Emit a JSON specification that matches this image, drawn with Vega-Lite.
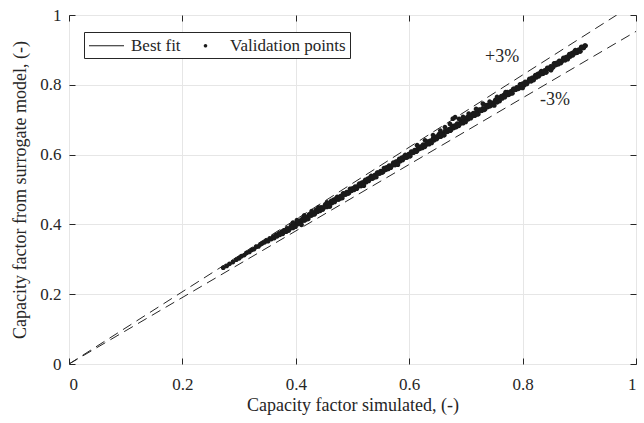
{
"$schema":"https://vega.github.io/schema/vega-lite/v6.json",
"width":567,"height":349,
"autosize":{"type":"none"},
"padding":{"left":69,"top":15,"right":8,"bottom":59},
"background":"white",
"config":{"font":"Liberation Serif","view":{"stroke":"#262626","strokeWidth":1},
"axis":{"domain":false,"gridColor":"#e6e6e6","gridWidth":1,"tickColor":"#262626","tickSize":-6,"labelColor":"#262626","titleColor":"#262626","labelFont":"Liberation Serif","titleFont":"Liberation Serif","labelFontSize":17,"titleFontSize":18,"titleFontWeight":"normal"}},
"resolve":{"axis":{"x":"independent","y":"independent"}},
"layer":[
{"data":{"values":[{"k":"p","x":0,"y":0},{"k":"p","x":0.966,"y":1},{"k":"m","x":0,"y":0},{"k":"m","x":1,"y":0.953}]},
"mark":{"type":"line","strokeDash":[10,6],"color":"#262626","strokeWidth":1,"clip":true},
"encoding":{"detail":{"field":"k"},
"x":{"field":"x","type":"quantitative","scale":{"domain":[0,1],"nice":false},"axis":{"values":[0,0.2,0.4,0.6,0.8,1],"format":"~g","title":"Capacity factor simulated, (-)","labelPadding":18,"titlePadding":4}},
"y":{"field":"y","type":"quantitative","scale":{"domain":[0,1],"nice":false},"axis":{"values":[0,0.2,0.4,0.6,0.8,1],"format":"~g","title":"Capacity factor from surrogate model, (-)","labelPadding":14,"titlePadding":10}}}},
{"data":{"values":[{"x":0.27,"y":0.27},{"x":0.915,"y":0.913}]},
"mark":{"type":"line","color":"#555555","strokeWidth":1},
"encoding":{"x":{"field":"x","type":"quantitative","axis":{"orient":"top","values":[0,0.2,0.4,0.6,0.8,1],"labels":false,"title":null,"grid":false}},
"y":{"field":"y","type":"quantitative","axis":{"orient":"right","values":[0,0.2,0.4,0.6,0.8,1],"labels":false,"title":null,"grid":false}}}},
{"data":{"values":[
{"x":0.272,"y":0.276},{"x":0.278,"y":0.281},{"x":0.283,"y":0.287},{"x":0.289,"y":0.292},{"x":0.295,"y":0.299},{"x":0.300,"y":0.303},{"x":0.304,"y":0.309},{"x":0.309,"y":0.312},{"x":0.313,"y":0.318},{"x":0.318,"y":0.321},{"x":0.322,"y":0.327},{"x":0.326,"y":0.329},{"x":0.330,"y":0.336},{"x":0.334,"y":0.337},{"x":0.338,"y":0.343},{"x":0.341,"y":0.346},{"x":0.345,"y":0.349},{"x":0.348,"y":0.354},{"x":0.351,"y":0.352},{"x":0.354,"y":0.360},{"x":0.357,"y":0.358},{"x":0.360,"y":0.365},{"x":0.362,"y":0.361},{"x":0.365,"y":0.370},{"x":0.367,"y":0.366},{"x":0.370,"y":0.374},{"x":0.372,"y":0.370},{"x":0.375,"y":0.379},{"x":0.377,"y":0.373},{"x":0.379,"y":0.383},
{"x":0.380,"y":0.383},{"x":0.383,"y":0.379},{"x":0.386,"y":0.387},{"x":0.389,"y":0.387},{"x":0.392,"y":0.397},{"x":0.395,"y":0.390},{"x":0.398,"y":0.398},{"x":0.401,"y":0.403},{"x":0.404,"y":0.401},{"x":0.407,"y":0.411},
{"x":0.410,"y":0.409},{"x":0.413,"y":0.419},{"x":0.416,"y":0.412},{"x":0.419,"y":0.421},{"x":0.422,"y":0.416},{"x":0.425,"y":0.428},{"x":0.428,"y":0.426},{"x":0.431,"y":0.432},{"x":0.434,"y":0.431},{"x":0.437,"y":0.441},
{"x":0.440,"y":0.443},{"x":0.443,"y":0.439},{"x":0.446,"y":0.447},{"x":0.449,"y":0.447},{"x":0.452,"y":0.457},{"x":0.455,"y":0.450},{"x":0.458,"y":0.458},{"x":0.461,"y":0.463},{"x":0.464,"y":0.461},{"x":0.467,"y":0.471},
{"x":0.470,"y":0.469},{"x":0.473,"y":0.479},{"x":0.476,"y":0.472},{"x":0.479,"y":0.481},{"x":0.482,"y":0.476},{"x":0.485,"y":0.488},{"x":0.488,"y":0.486},{"x":0.491,"y":0.492},{"x":0.494,"y":0.491},{"x":0.497,"y":0.501},
{"x":0.500,"y":0.503},{"x":0.503,"y":0.499},{"x":0.506,"y":0.507},{"x":0.509,"y":0.507},{"x":0.512,"y":0.517},{"x":0.515,"y":0.510},{"x":0.518,"y":0.518},{"x":0.521,"y":0.523},{"x":0.524,"y":0.521},{"x":0.527,"y":0.531},
{"x":0.530,"y":0.529},{"x":0.533,"y":0.539},{"x":0.536,"y":0.532},{"x":0.539,"y":0.541},{"x":0.542,"y":0.536},{"x":0.545,"y":0.548},{"x":0.548,"y":0.546},{"x":0.551,"y":0.552},{"x":0.554,"y":0.551},{"x":0.557,"y":0.561},
{"x":0.560,"y":0.563},{"x":0.563,"y":0.559},{"x":0.566,"y":0.567},{"x":0.569,"y":0.567},{"x":0.572,"y":0.577},{"x":0.575,"y":0.570},{"x":0.578,"y":0.578},{"x":0.581,"y":0.583},{"x":0.584,"y":0.581},{"x":0.587,"y":0.591},
{"x":0.590,"y":0.589},{"x":0.593,"y":0.599},{"x":0.596,"y":0.592},{"x":0.599,"y":0.601},{"x":0.602,"y":0.596},{"x":0.605,"y":0.608},{"x":0.608,"y":0.606},{"x":0.611,"y":0.612},{"x":0.614,"y":0.611},{"x":0.617,"y":0.621},
{"x":0.620,"y":0.623},{"x":0.623,"y":0.619},{"x":0.626,"y":0.627},{"x":0.629,"y":0.627},{"x":0.632,"y":0.637},{"x":0.635,"y":0.630},{"x":0.638,"y":0.638},{"x":0.641,"y":0.643},{"x":0.644,"y":0.641},{"x":0.647,"y":0.651},
{"x":0.650,"y":0.649},{"x":0.653,"y":0.659},{"x":0.656,"y":0.652},{"x":0.659,"y":0.661},{"x":0.662,"y":0.656},{"x":0.665,"y":0.668},{"x":0.668,"y":0.666},{"x":0.671,"y":0.672},{"x":0.674,"y":0.671},{"x":0.677,"y":0.681},
{"x":0.680,"y":0.683},{"x":0.683,"y":0.679},{"x":0.686,"y":0.687},{"x":0.689,"y":0.687},{"x":0.692,"y":0.697},{"x":0.695,"y":0.690},{"x":0.698,"y":0.698},{"x":0.701,"y":0.703},{"x":0.704,"y":0.701},{"x":0.707,"y":0.711},
{"x":0.710,"y":0.709},{"x":0.713,"y":0.719},{"x":0.716,"y":0.712},{"x":0.719,"y":0.721},{"x":0.722,"y":0.716},{"x":0.725,"y":0.728},{"x":0.728,"y":0.726},{"x":0.731,"y":0.732},{"x":0.734,"y":0.731},{"x":0.737,"y":0.741},
{"x":0.740,"y":0.743},{"x":0.743,"y":0.739},{"x":0.746,"y":0.747},{"x":0.749,"y":0.747},{"x":0.752,"y":0.757},{"x":0.755,"y":0.750},{"x":0.758,"y":0.758},{"x":0.761,"y":0.763},{"x":0.764,"y":0.761},{"x":0.767,"y":0.771},
{"x":0.770,"y":0.769},{"x":0.773,"y":0.779},{"x":0.776,"y":0.772},{"x":0.779,"y":0.781},{"x":0.782,"y":0.776},{"x":0.785,"y":0.788},{"x":0.788,"y":0.786},{"x":0.791,"y":0.792},{"x":0.794,"y":0.791},{"x":0.797,"y":0.801},
{"x":0.800,"y":0.803},{"x":0.803,"y":0.799},{"x":0.806,"y":0.807},{"x":0.809,"y":0.807},{"x":0.812,"y":0.817},{"x":0.815,"y":0.810},{"x":0.818,"y":0.818},{"x":0.821,"y":0.823},{"x":0.824,"y":0.821},{"x":0.827,"y":0.831},
{"x":0.830,"y":0.829},{"x":0.833,"y":0.839},{"x":0.836,"y":0.832},{"x":0.839,"y":0.841},{"x":0.842,"y":0.836},{"x":0.845,"y":0.848},{"x":0.848,"y":0.846},{"x":0.851,"y":0.852},{"x":0.854,"y":0.851},{"x":0.857,"y":0.861},
{"x":0.860,"y":0.863},{"x":0.863,"y":0.859},{"x":0.866,"y":0.867},{"x":0.869,"y":0.867},{"x":0.872,"y":0.877},{"x":0.875,"y":0.870},{"x":0.878,"y":0.878},{"x":0.881,"y":0.883},{"x":0.884,"y":0.881},{"x":0.887,"y":0.891},
{"x":0.890,"y":0.889},{"x":0.893,"y":0.899},{"x":0.896,"y":0.892},{"x":0.899,"y":0.901},{"x":0.902,"y":0.896},{"x":0.905,"y":0.908},{"x":0.908,"y":0.906},{"x":0.911,"y":0.912},
{"x":0.3815,"y":0.3795},{"x":0.3845,"y":0.3885},{"x":0.3875,"y":0.3825},{"x":0.3905,"y":0.3915},{"x":0.3935,"y":0.3925},{"x":0.3965,"y":0.3995},{"x":0.3995,"y":0.3935},{"x":0.4025,"y":0.4075},{"x":0.4055,"y":0.4075},{"x":0.4085,"y":0.4045},{"x":0.4115,"y":0.4155},{"x":0.4145,"y":0.4115},{"x":0.4175,"y":0.4185},{"x":0.4205,"y":0.4155},{"x":0.4235,"y":0.4285},{"x":0.4265,"y":0.4255},{"x":0.4295,"y":0.4325},{"x":0.4325,"y":0.4285},{"x":0.4355,"y":0.4415},{"x":0.4385,"y":0.4365},
{"x":0.4415,"y":0.4395},{"x":0.4445,"y":0.4485},{"x":0.4475,"y":0.4425},{"x":0.4505,"y":0.4515},{"x":0.4535,"y":0.4525},{"x":0.4565,"y":0.4595},{"x":0.4595,"y":0.4535},{"x":0.4625,"y":0.4675},{"x":0.4655,"y":0.4675},{"x":0.4685,"y":0.4645},{"x":0.4715,"y":0.4755},{"x":0.4745,"y":0.4715},{"x":0.4775,"y":0.4785},{"x":0.4805,"y":0.4755},{"x":0.4835,"y":0.4885},{"x":0.4865,"y":0.4855},{"x":0.4895,"y":0.4925},{"x":0.4925,"y":0.4885},{"x":0.4955,"y":0.5015},{"x":0.4985,"y":0.4965},
{"x":0.5015,"y":0.4995},{"x":0.5045,"y":0.5085},{"x":0.5075,"y":0.5025},{"x":0.5105,"y":0.5115},{"x":0.5135,"y":0.5125},{"x":0.5165,"y":0.5195},{"x":0.5195,"y":0.5135},{"x":0.5225,"y":0.5275},{"x":0.5255,"y":0.5275},{"x":0.5285,"y":0.5245},{"x":0.5315,"y":0.5355},{"x":0.5345,"y":0.5315},{"x":0.5375,"y":0.5385},{"x":0.5405,"y":0.5355},{"x":0.5435,"y":0.5485},{"x":0.5465,"y":0.5455},{"x":0.5495,"y":0.5525},{"x":0.5525,"y":0.5485},{"x":0.5555,"y":0.5615},{"x":0.5585,"y":0.5565},
{"x":0.5615,"y":0.5595},{"x":0.5645,"y":0.5685},{"x":0.5675,"y":0.5625},{"x":0.5705,"y":0.5715},{"x":0.5735,"y":0.5725},{"x":0.5765,"y":0.5795},{"x":0.5795,"y":0.5735},{"x":0.5825,"y":0.5875},{"x":0.5855,"y":0.5875},{"x":0.5885,"y":0.5845},{"x":0.5915,"y":0.5955},{"x":0.5945,"y":0.5915},{"x":0.5975,"y":0.5985},{"x":0.6005,"y":0.5955},{"x":0.6035,"y":0.6085},{"x":0.6065,"y":0.6055},{"x":0.6095,"y":0.6125},{"x":0.6125,"y":0.6085},{"x":0.6155,"y":0.6215},{"x":0.6185,"y":0.6165},
{"x":0.6215,"y":0.6195},{"x":0.6245,"y":0.6285},{"x":0.6275,"y":0.6225},{"x":0.6305,"y":0.6315},{"x":0.6335,"y":0.6325},{"x":0.6365,"y":0.6395},{"x":0.6395,"y":0.6335},{"x":0.6425,"y":0.6475},{"x":0.6455,"y":0.6475},{"x":0.6485,"y":0.6445},{"x":0.6515,"y":0.6555},{"x":0.6545,"y":0.6515},{"x":0.6575,"y":0.6585},{"x":0.6605,"y":0.6555},{"x":0.6635,"y":0.6685},{"x":0.6665,"y":0.6655},{"x":0.6695,"y":0.6725},{"x":0.6725,"y":0.6685},{"x":0.6755,"y":0.6815},{"x":0.6785,"y":0.6765},
{"x":0.6815,"y":0.6795},{"x":0.6845,"y":0.6885},{"x":0.6875,"y":0.6825},{"x":0.6905,"y":0.6915},{"x":0.6935,"y":0.6925},{"x":0.6965,"y":0.6995},{"x":0.6995,"y":0.6935},{"x":0.7025,"y":0.7075},{"x":0.7055,"y":0.7075},{"x":0.7085,"y":0.7045},{"x":0.7115,"y":0.7155},{"x":0.7145,"y":0.7115},{"x":0.7175,"y":0.7185},{"x":0.7205,"y":0.7155},{"x":0.7235,"y":0.7285},{"x":0.7265,"y":0.7255},{"x":0.7295,"y":0.7325},{"x":0.7325,"y":0.7285},{"x":0.7355,"y":0.7415},{"x":0.7385,"y":0.7365},
{"x":0.7415,"y":0.7395},{"x":0.7445,"y":0.7485},{"x":0.7475,"y":0.7425},{"x":0.7505,"y":0.7515},{"x":0.7535,"y":0.7525},{"x":0.7565,"y":0.7595},{"x":0.7595,"y":0.7535},{"x":0.7625,"y":0.7675},{"x":0.7655,"y":0.7675},{"x":0.7685,"y":0.7645},{"x":0.7715,"y":0.7755},{"x":0.7745,"y":0.7715},{"x":0.7775,"y":0.7785},{"x":0.7805,"y":0.7755},{"x":0.7835,"y":0.7885},{"x":0.7865,"y":0.7855},{"x":0.7895,"y":0.7925},{"x":0.7925,"y":0.7885},{"x":0.7955,"y":0.8015},{"x":0.7985,"y":0.7965},
{"x":0.8015,"y":0.7995},{"x":0.8045,"y":0.8085},{"x":0.8075,"y":0.8025},{"x":0.8105,"y":0.8115},{"x":0.8135,"y":0.8125},{"x":0.8165,"y":0.8195},{"x":0.8195,"y":0.8135},{"x":0.8225,"y":0.8275},{"x":0.8255,"y":0.8275},{"x":0.8285,"y":0.8245},{"x":0.8315,"y":0.8355},{"x":0.8345,"y":0.8315},{"x":0.8375,"y":0.8385},{"x":0.8405,"y":0.8355},{"x":0.8435,"y":0.8485},{"x":0.8465,"y":0.8455},{"x":0.8495,"y":0.8525},{"x":0.8525,"y":0.8485},{"x":0.8555,"y":0.8615},{"x":0.8585,"y":0.8565},
{"x":0.8615,"y":0.8595},{"x":0.8645,"y":0.8685},{"x":0.8675,"y":0.8625},{"x":0.8705,"y":0.8715},{"x":0.8735,"y":0.8725},{"x":0.8765,"y":0.8795},{"x":0.8795,"y":0.8735},{"x":0.8825,"y":0.8875},{"x":0.8855,"y":0.8875},{"x":0.8885,"y":0.8845},{"x":0.8915,"y":0.8955},{"x":0.8945,"y":0.8915},{"x":0.8975,"y":0.8985},{"x":0.9005,"y":0.8955},{"x":0.9035,"y":0.9085},{"x":0.9065,"y":0.9055},{"x":0.9095,"y":0.9125},
{"x":0.395,"y":0.405},{"x":0.402,"y":0.412},{"x":0.415,"y":0.426},{"x":0.428,"y":0.438},{"x":0.440,"y":0.449},{"x":0.455,"y":0.463},
{"x":0.614,"y":0.627},{"x":0.628,"y":0.641},{"x":0.642,"y":0.656},{"x":0.655,"y":0.669},{"x":0.663,"y":0.679},{"x":0.672,"y":0.688},{"x":0.677,"y":0.703},{"x":0.681,"y":0.707},{"x":0.688,"y":0.702},{"x":0.695,"y":0.708},{"x":0.705,"y":0.717},{"x":0.718,"y":0.731},{"x":0.730,"y":0.746},{"x":0.742,"y":0.752},{"x":0.755,"y":0.765},{"x":0.770,"y":0.779},
{"x":0.410,"y":0.399},{"x":0.460,"y":0.451},{"x":0.520,"y":0.511},{"x":0.580,"y":0.571},{"x":0.750,"y":0.741},{"x":0.800,"y":0.791},{"x":0.850,"y":0.842}
]},
"mark":{"type":"point","filled":true,"color":"#1a1a1a","opacity":1,"size":520},
"encoding":{
"x":{"field":"x","type":"quantitative","axis":null},
"y":{"field":"y","type":"quantitative","axis":null},
"shape":{"datum":"Validation points","type":"nominal","scale":{"domain":["Best fit","Validation points"],"range":["M-2.06,-0.06H2.06V0.06H-2.06Z","M-0.21,0A0.21,0.21,0,1,0,0.21,0A0.21,0.21,0,1,0,-0.21,0Z"]},"legend":{"orient":"none","legendX":15,"legendY":17,"direction":"horizontal","title":null,"strokeColor":"#262626","fillColor":"white","padding":4,"labelFont":"Liberation Serif","labelFontSize":17,"labelColor":"#262626","labelLimit":0,"columnPadding":6,"labelOffset":15,"symbolSize":289,"symbolOffset":9}}}},
{"data":{"values":[{"x":0.764,"y":0.88,"t":"+3%"},{"x":0.857,"y":0.756,"t":"-3%"}]},
"mark":{"type":"text","font":"Liberation Serif","fontSize":18,"color":"#262626"},
"encoding":{"x":{"field":"x","type":"quantitative","axis":null},"y":{"field":"y","type":"quantitative","axis":null},"text":{"field":"t"}}}
]
}
